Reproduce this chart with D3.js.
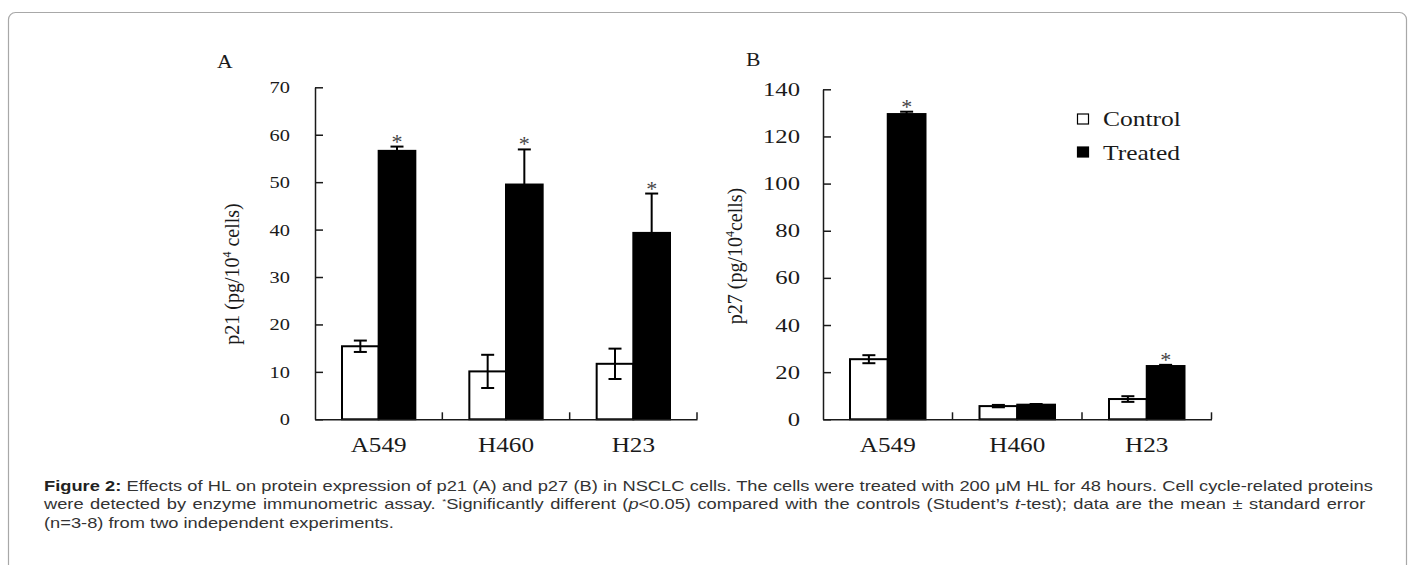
<!DOCTYPE html>
<html>
<head>
<meta charset="utf-8">
<script src="https://cdn.jsdelivr.net/npm/d3@7/dist/d3.min.js"></script>
<style>
  body { margin: 0; background: #fff; }
  svg { display: block; }
</style>
</head>
<body>
<script>
  // data
  var cells = ['A549', 'H460', 'H23'];
  var groups = ['Control', 'Treated'];

  var p21Control = [15.4, 10.1, 11.7];
  var p21ControlErr = [1.2, 3.5, 3.2];
  var p21Treated = [56.6, 49.5, 39.3];
  var p21TreatedErr = [0.9, 7.4, 8.3];
  var p21Star = [true, true, true];

  var p27Control = [25.5, 5.6, 8.6];
  var p27ControlErr = [1.7, 0.5, 1.2];
  var p27Treated = [129.5, 6.2, 22.6];
  var p27TreatedErr = [1.0, 0.3, 0.5];
  var p27Star = [true, false, true];

  var p21Ticks = [0, 10, 20, 30, 40, 50, 60, 70];
  var p27Ticks = [0, 20, 40, 60, 80, 100, 120, 140];

  var W = 1413, H = 565;
  var serif = '"Liberation Serif", "Times New Roman", serif';
  var ink = '#1a1a1a';
  var stretch = 1.2;

  var svg = d3.select('body').append('svg')
      .attr('width', W)
      .attr('height', H);

  // outer frame, bottom edge runs off the picture
  svg.append('rect')
      .attr('x', 8.5).attr('y', 12.5)
      .attr('width', 1398).attr('height', 580)
      .attr('rx', 7)
      .attr('fill', 'none')
      .attr('stroke', '#a8a8a8')
      .attr('stroke-width', 1.2);

  function panel(opt) {
    var g = svg.append('g');

    var x = d3.scaleBand().domain(cells).range([opt.left, opt.right]);
    var bw = x.bandwidth();
    var x1 = d3.scaleBand().domain(groups).range([27, bw - 27]);
    var y = d3.scaleLinear().domain([0, opt.max]).range([opt.bottom, opt.top]);

    var rows = cells.map(function(c, i) {
      return [
        { cell: c, group: 'Control', v: opt.control[i], e: opt.controlErr[i], star: false },
        { cell: c, group: 'Treated', v: opt.treated[i], e: opt.treatedErr[i], star: opt.star[i] }
      ];
    });
    var flat = d3.merge(rows);

    // bars
    g.selectAll('rect.bar')
      .data(flat)
      .join('rect')
        .attr('class', 'bar')
        .attr('x', function(d) { return x(d.cell) + x1(d.group); })
        .attr('y', function(d) { return y(d.v); })
        .attr('width', x1.bandwidth())
        .attr('height', function(d) { return y(0) - y(d.v); })
        .attr('fill', function(d) { return d.group == 'Control' ? '#fff' : '#000'; })
        .attr('stroke', '#000')
        .attr('stroke-width', 2);

    // error bars
    var cap = 6.5;
    var eb = g.selectAll('g.err')
      .data(flat)
      .join('g')
        .attr('class', 'err')
        .attr('transform', function(d) {
          return 'translate(' + (x(d.cell) + x1(d.group) + x1.bandwidth() / 2) + ',0)';
        });
    eb.append('line')
        .attr('y1', function(d) { return y(d.v - d.e); })
        .attr('y2', function(d) { return y(d.v + d.e); })
        .attr('stroke', '#000').attr('stroke-width', 2);
    eb.append('line')
        .attr('x1', -cap).attr('x2', cap)
        .attr('y1', function(d) { return y(d.v + d.e); })
        .attr('y2', function(d) { return y(d.v + d.e); })
        .attr('stroke', '#000').attr('stroke-width', 2);
    eb.append('line')
        .attr('x1', -cap).attr('x2', cap)
        .attr('y1', function(d) { return y(d.v - d.e); })
        .attr('y2', function(d) { return y(d.v - d.e); })
        .attr('stroke', '#000').attr('stroke-width', 2);

    // significance marks
    g.selectAll('text.star')
      .data(flat.filter(function(d) { return d.star; }))
      .join('text')
        .attr('class', 'star')
        .attr('x', function(d) { return x(d.cell) + x1(d.group) + x1.bandwidth() / 2; })
        .attr('y', function(d) { return y(d.v + d.e) + 2; })
        .attr('text-anchor', 'middle')
        .attr('font-family', serif)
        .attr('font-size', 22)
        .attr('fill', '#444')
        .text('*');

    // y axis, ticks pointing in
    var yAxis = g.append('g')
        .attr('transform', 'translate(' + opt.left + ',0)')
        .call(d3.axisLeft(y).tickValues(opt.ticks).tickSize(-8).tickPadding(25).tickSizeOuter(0));
    yAxis.select('.domain').attr('stroke', ink).attr('stroke-width', 1.5);
    yAxis.selectAll('.tick line').attr('stroke', ink).attr('stroke-width', 1.5);
    yAxis.selectAll('.tick text')
        .attr('x', -opt.pad / opt.tickStretch)
        .attr('transform', 'scale(' + opt.tickStretch + ',1)')
        .attr('font-family', serif)
        .attr('font-size', opt.tickFont)
        .attr('fill', ink);

    // x axis, labels centred, ticks at band edges
    var xAxis = g.append('g')
        .attr('transform', 'translate(0,' + opt.bottom + ')')
        .call(d3.axisBottom(x).tickSize(0).tickPadding(0));
    xAxis.select('.domain').attr('stroke', ink).attr('stroke-width', 1.5);
    xAxis.selectAll('.tick text')
        .attr('y', 33).attr('dy', 0)
        .attr('transform', 'scale(' + stretch + ',1)')
        .attr('font-family', serif)
        .attr('font-size', 21)
        .attr('fill', ink);
    xAxis.selectAll('line.edge')
      .data(cells)
      .join('line')
        .attr('class', 'edge')
        .attr('x1', function(c) { return x(c) + bw; })
        .attr('x2', function(c) { return x(c) + bw; })
        .attr('y1', 0).attr('y2', -7)
        .attr('stroke', ink).attr('stroke-width', 1.5);

    // axis title
    var t = g.append('text')
        .attr('transform', 'translate(' + opt.titleX + ',' + opt.titleY + ') rotate(-90)')
        .attr('text-anchor', 'middle')
        .attr('font-family', serif)
        .attr('font-size', 20)
        .attr('fill', ink);
    t.append('tspan').text(opt.title[0]);
    t.append('tspan').attr('font-size', 12).attr('dy', -8).text('4');
    t.append('tspan').attr('dy', 8).text(opt.title[1]);

    // panel letter
    g.append('text')
        .attr('x', opt.letterX).attr('y', opt.letterY)
        .attr('transform', 'scale(' + stretch + ',1)')
        .attr('font-family', serif)
        .attr('font-size', 18)
        .attr('fill', ink)
        .text(opt.letter);

    return { x: x, y: y };
  }

  panel({
    left: 315, right: 697, top: 87.3, bottom: 419.3, max: 70, pad: 25,
    tickFont: 17, tickStretch: 1.2,
    control: p21Control, controlErr: p21ControlErr,
    treated: p21Treated, treatedErr: p21TreatedErr, star: p21Star,
    ticks: p21Ticks,
    title: ['p21 (pg/10', ' cells)'], titleX: 239, titleY: 274,
    letter: 'A', letterX: 217 / stretch, letterY: 68
  });

  panel({
    left: 823, right: 1211.5, top: 89.3, bottom: 419.3, max: 140, pad: 23,
    tickFont: 19, tickStretch: 1.3,
    control: p27Control, controlErr: p27ControlErr,
    treated: p27Treated, treatedErr: p27TreatedErr, star: p27Star,
    ticks: p27Ticks,
    title: ['p27 (pg/10', 'cells)'], titleX: 742, titleY: 256,
    letter: 'B', letterX: 746 / stretch, letterY: 66
  });

  // legend
  var legend = svg.append('g');
  legend.selectAll('rect')
    .data(groups)
    .join('rect')
      .attr('x', 1077.5)
      .attr('y', function(d, i) { return 114 + i * 33; })
      .attr('width', 11).attr('height', 10)
      .attr('fill', function(d) { return d == 'Control' ? '#fff' : '#000'; })
      .attr('stroke', '#000')
      .attr('stroke-width', 1.2);
  legend.selectAll('text')
    .data(groups)
    .join('text')
      .attr('x', 1103 / 1.16)
      .attr('y', function(d, i) { return 126 + i * 34; })
      .attr('transform', 'scale(1.16,1)')
      .attr('font-family', serif)
      .attr('font-size', 22)
      .attr('fill', ink)
      .text(function(d) { return d; });

  // caption (the source text is stretched sideways and justified)
  var sans = '"Liberation Sans", Arial, sans-serif';
  var cap = svg.append('g')
      .attr('transform', 'translate(44,0) scale(1.27,1)')
      .attr('font-family', sans)
      .attr('font-size', 14.4)
      .attr('fill', '#333');

  var l1 = cap.append('text').attr('x', 0).attr('y', 491).attr('word-spacing', 0.15);
  l1.append('tspan').attr('font-weight', 'bold').attr('fill', '#222').text('Figure 2:');
  l1.append('tspan').text(' Effects of HL on protein expression of p21 (A) and p27 (B) in NSCLC cells. The cells were treated with 200 \u03bcM HL for 48 hours. Cell cycle-related proteins');

  var l2 = cap.append('text').attr('x', 0).attr('y', 509.5).attr('word-spacing', 1.15);
  l2.append('tspan').text('were detected by enzyme immunometric assay. ');
  l2.append('tspan').attr('font-size', 8).attr('dy', -5).text('*');
  l2.append('tspan').attr('dy', 5).text('Significantly different (');
  l2.append('tspan').attr('font-style', 'italic').text('p');
  l2.append('tspan').text('<0.05) compared with the controls (Student\u2019s ');
  l2.append('tspan').attr('font-style', 'italic').text('t');
  l2.append('tspan').text('-test); data are the mean \u00b1 standard error');

  cap.append('text').attr('x', 0).attr('y', 528)
      .text('(n=3-8) from two independent experiments.');
</script>
</body>
</html>
